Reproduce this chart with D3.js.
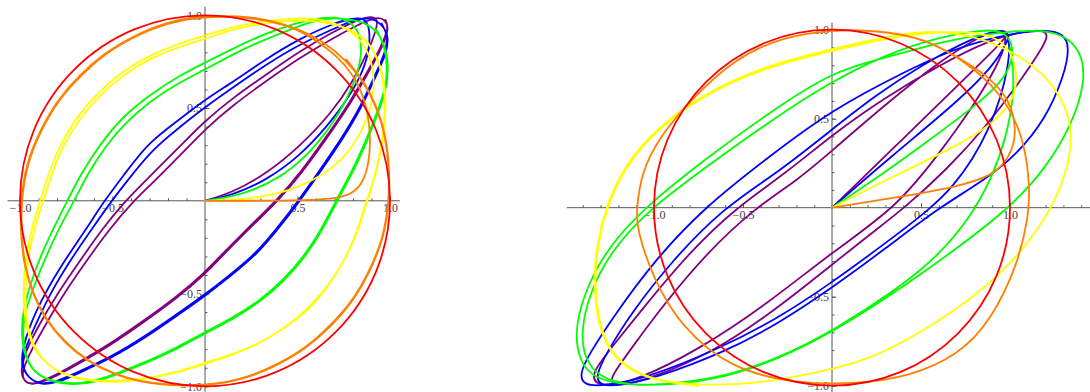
<!DOCTYPE html>
<html><head><meta charset="utf-8">
<script src="https://cdn.jsdelivr.net/npm/d3@7"></script>
<style>html,body{margin:0;padding:0;background:#fff}svg{display:block}</style>
</head><body><svg id="chart" width="1090" height="392"></svg>
<script>
// ---- tick values ----
const majorTicks = [-1, -0.5, 0.5, 1];
const leftMinor = [-1,-0.9,-0.8,-0.7,-0.6,-0.5,-0.4,-0.3,-0.2,-0.1,0.1,0.2,0.3,0.4,0.5,0.6,0.7,0.8,0.9,1];
const rightMinorX = [-1.4,-1.3,-1.2,-1.1,-1,-0.9,-0.8,-0.7,-0.6,-0.5,-0.4,-0.3,-0.2,-0.1,0.1,0.2,0.3,0.4,0.5,0.6,0.7,0.8,0.9,1,1.1,1.2,1.3,1.4];

// ---- left panel trajectories ----
const leftRed = [[1,0],[0.924,0.383],[0.707,0.707],[0.383,0.924],[0,1],[-0.383,0.924],[-0.707,0.707],[-0.924,0.383],[-1,0],[-0.924,-0.383],[-0.707,-0.707],[-0.383,-0.924],[0,-1],[0.383,-0.924],[0.707,-0.707],[0.924,-0.383]];

const leftOrange = [[0,0],[0.35,0],[0.6,0.004],[0.72,0.014],[0.8,0.04],[0.855,0.1],[0.885,0.2],[0.895,0.32],[0.885,0.45],[0.855,0.57],[0.8,0.68],[0.72,0.775],[0.6,0.865],[0.5,0.925],
 [0.35,0.972],[0.18,0.993],[0,0.993],[-0.2,0.963],[-0.4,0.878],[-0.55,0.787],[-0.673,0.673],[-0.787,0.55],[-0.878,0.4],[-0.963,0.2],[-0.993,0],[-0.993,-0.18],[-0.975,-0.35],[-0.93,-0.5],[-0.86,-0.64],[-0.76,-0.76],[-0.64,-0.86],[-0.5,-0.93],[-0.35,-0.975],[-0.18,-0.995],[0,-0.995],[0.2,-0.965],[0.4,-0.88],[0.55,-0.79],[0.675,-0.675],[0.79,-0.55],[0.88,-0.4],[0.965,-0.2],[0.995,0],[0.995,0.18],[0.975,0.35],[0.93,0.5],[0.86,0.64],[0.76,0.76],[0.64,0.86],[0.5,0.93],
 [0.35,0.976],[0.18,0.997],[0,0.997],[-0.2,0.968],[-0.4,0.883],[-0.55,0.792],[-0.678,0.678],[-0.792,0.55],[-0.883,0.4],[-0.968,0.2],[-0.997,0],[-0.997,-0.18],[-0.978,-0.35],[-0.933,-0.5],[-0.863,-0.64],[-0.763,-0.763],[-0.64,-0.863],[-0.5,-0.933],[-0.35,-0.978],[-0.18,-0.997],[0,-0.997],[0.2,-0.968],[0.4,-0.884],[0.55,-0.794],[0.68,-0.68],[0.794,-0.55],[0.884,-0.4],[0.968,-0.2],[0.997,0],[0.997,0.18],[0.978,0.35],[0.933,0.5],[0.863,0.64],[0.763,0.763]];

const leftYellow = [[0,0],[0.2,0.006],[0.36,0.03],[0.5,0.07],[0.64,0.14],[0.75,0.23],[0.83,0.34],[0.89,0.47],[0.915,0.6],[0.91,0.72],[0.87,0.83],[0.8,0.91],[0.7,0.96],[0.6,0.982],
 [0.5,0.985],[0.33,0.972],[0.15,0.938],[0,0.891],[-0.15,0.845],[-0.3,0.785],[-0.45,0.695],[-0.582,0.582],[-0.695,0.45],[-0.785,0.3],[-0.845,0.15],[-0.891,0],[-0.938,-0.15],[-0.972,-0.33],[-0.985,-0.5],[-0.974,-0.65],[-0.936,-0.78],[-0.87,-0.87],
 [-0.775,-0.935],[-0.645,-0.97],[-0.495,-0.98],[-0.325,-0.963],[-0.145,-0.925],[0.005,-0.878],[0.155,-0.83],[0.305,-0.765],[0.455,-0.67],[0.575,-0.575],[0.67,-0.455],[0.765,-0.305],[0.83,-0.155],[0.878,0.005],[0.925,0.145],[0.963,0.325],[0.98,0.495],[0.97,0.645],[0.935,0.775],[0.87,0.87],
 [0.78,0.93],[0.65,0.965],[0.5,0.975],[0.33,0.96],[0.15,0.925],[0,0.873],[-0.15,0.827],[-0.3,0.767],[-0.44,0.68],[-0.57,0.57],[-0.68,0.44],[-0.767,0.3],[-0.827,0.15],[-0.873,0],[-0.925,-0.15],[-0.96,-0.33],[-0.975,-0.5],[-0.965,-0.65],[-0.93,-0.78],[-0.87,-0.87],
 [-0.78,-0.93],[-0.65,-0.965],[-0.5,-0.975],[-0.33,-0.96],[-0.15,-0.925],[0,-0.873],[0.15,-0.827],[0.3,-0.767],[0.44,-0.68],[0.57,-0.57],[0.68,-0.44],[0.767,-0.3],[0.827,-0.15],[0.873,0],[0.925,0.15],[0.96,0.33],[0.975,0.5],[0.965,0.65],[0.93,0.78],[0.87,0.87]];

const leftGreen = [[0,0],[0.2,0.03],[0.4,0.12],[0.55,0.24],[0.68,0.4],[0.77,0.55],[0.83,0.7],[0.85,0.82],[0.83,0.92],[0.77,0.975],[0.7,0.99],
 [0.6,0.985],[0.45,0.945],[0.3,0.89],[0.15,0.82],[0,0.745],[-0.15,0.668],[-0.3,0.57],[-0.45,0.45],[-0.57,0.3],[-0.668,0.15],[-0.745,0],[-0.82,-0.15],[-0.89,-0.3],[-0.945,-0.45],[-0.985,-0.6],[-0.993,-0.72],[-0.975,-0.84],[-0.925,-0.925],
 [-0.835,-0.975],[-0.715,-0.993],[-0.595,-0.98],[-0.445,-0.925],[-0.295,-0.865],[-0.145,-0.795],[0.005,-0.712],[0.155,-0.637],[0.305,-0.54],[0.43,-0.43],[0.54,-0.305],[0.637,-0.155],[0.712,-0.005],[0.795,0.145],[0.865,0.295],[0.925,0.445],[0.98,0.595],[0.993,0.715],[0.975,0.835],[0.925,0.925],
 [0.84,0.97],[0.72,0.988],[0.6,0.975],[0.45,0.92],[0.3,0.86],[0.15,0.79],[0,0.707],[-0.15,0.632],[-0.3,0.535],[-0.425,0.425],[-0.535,0.3],[-0.632,0.15],[-0.707,0],[-0.79,-0.15],[-0.86,-0.3],[-0.92,-0.45],[-0.975,-0.6],[-0.988,-0.72],[-0.97,-0.84],[-0.925,-0.925],
 [-0.84,-0.97],[-0.72,-0.988],[-0.6,-0.975],[-0.45,-0.92],[-0.3,-0.86],[-0.15,-0.79],[0,-0.707],[0.15,-0.632],[0.3,-0.535],[0.425,-0.425],[0.535,-0.3],[0.632,-0.15],[0.707,0],[0.79,0.15],[0.86,0.3],[0.92,0.45],[0.975,0.6],[0.988,0.72],[0.97,0.84],[0.925,0.925]];

const leftBlue = [[0,0],[0.15,0.03],[0.33,0.11],[0.51,0.24],[0.66,0.4],[0.78,0.56],[0.855,0.7],[0.89,0.82],[0.89,0.93],[0.865,0.985],
 [0.8,0.985],[0.69,0.955],[0.51,0.873],[0.33,0.765],[0.15,0.64],[0,0.545],[-0.15,0.43],[-0.31,0.31],[-0.43,0.15],[-0.545,0],[-0.64,-0.15],[-0.765,-0.33],[-0.873,-0.51],[-0.955,-0.69],[-0.985,-0.8],[-0.995,-0.885],[-0.955,-0.955],
 [-0.885,-0.995],[-0.795,-0.98],[-0.685,-0.93],[-0.505,-0.848],[-0.325,-0.74],[-0.145,-0.615],[0.005,-0.51],[0.145,-0.4],[0.285,-0.285],[0.4,-0.145],[0.51,-0.005],[0.615,0.145],[0.74,0.325],[0.848,0.505],[0.93,0.685],[0.98,0.795],[0.995,0.885],[0.955,0.955],
 [0.89,0.99],[0.8,0.975],[0.69,0.925],[0.51,0.843],[0.33,0.735],[0.15,0.61],[0,0.505],[-0.14,0.395],[-0.28,0.28],[-0.395,0.14],[-0.505,0],[-0.61,-0.15],[-0.735,-0.33],[-0.843,-0.51],[-0.925,-0.69],[-0.975,-0.8],[-0.99,-0.89],[-0.955,-0.955],
 [-0.89,-0.99],[-0.8,-0.975],[-0.69,-0.925],[-0.51,-0.843],[-0.33,-0.735],[-0.15,-0.61],[0,-0.505],[0.14,-0.395],[0.28,-0.28],[0.395,-0.14],[0.505,0],[0.61,0.15],[0.735,0.33],[0.843,0.51],[0.925,0.69],[0.975,0.8],[0.99,0.89],[0.955,0.955]];

const leftPurple = [[0,0],[0.15,0.045],[0.33,0.145],[0.51,0.29],[0.69,0.48],[0.8,0.645],[0.88,0.8],[0.925,0.92],[0.935,0.975],[0.905,0.997],
 [0.835,0.98],[0.69,0.91],[0.51,0.805],[0.33,0.68],[0.15,0.555],[0,0.43],[-0.1,0.33],[-0.215,0.215],[-0.33,0.1],[-0.43,0],[-0.555,-0.15],[-0.68,-0.33],[-0.805,-0.51],[-0.91,-0.69],[-0.98,-0.835],[-0.997,-0.93],[-0.975,-0.975],
 [-0.935,-0.995],[-0.83,-0.96],[-0.685,-0.88],[-0.505,-0.775],[-0.325,-0.65],[-0.145,-0.52],[0.005,-0.39],[0.095,-0.295],[0.195,-0.195],[0.295,-0.095],[0.39,-0.005],[0.52,0.145],[0.65,0.325],[0.775,0.505],[0.88,0.685],[0.96,0.83],[0.995,0.93],[0.975,0.975],
 [0.935,0.993],[0.835,0.955],[0.69,0.875],[0.51,0.77],[0.33,0.645],[0.15,0.515],[0,0.385],[-0.09,0.29],[-0.19,0.19],[-0.29,0.09],[-0.385,0],[-0.515,-0.15],[-0.645,-0.33],[-0.77,-0.51],[-0.875,-0.69],[-0.955,-0.835],[-0.993,-0.935],[-0.975,-0.975],
 [-0.935,-0.993],[-0.835,-0.955],[-0.69,-0.875],[-0.51,-0.77],[-0.33,-0.645],[-0.15,-0.515],[0,-0.385],[0.09,-0.29],[0.19,-0.19],[0.29,-0.09],[0.385,0],[0.515,0.15],[0.645,0.33],[0.77,0.51],[0.875,0.69],[0.955,0.835],[0.993,0.935],[0.975,0.975]];

// ---- right panel trajectories ----
const rightRed = [[1,0],[0.924,0.383],[0.707,0.707],[0.383,0.924],[0,1],[-0.383,0.924],[-0.707,0.707],[-0.924,0.383],[-1,0],[-0.924,-0.383],[-0.707,-0.707],[-0.383,-0.924],[0,-1],[0.383,-0.924],[0.707,-0.707],[0.924,-0.383]];

const rightOrange = [[0,0],[0.335,0.053],[0.71,0.118],[0.897,0.18],[0.98,0.26],[1.025,0.36],[1.03,0.46],[1.01,0.56],[0.96,0.65],[0.88,0.73],
 [0.8,0.79],[0.522,0.955],[0.25,0.995],[0,1],[-0.28,0.96],[-0.55,0.835],[-0.79,0.61],[-0.975,0.39],[-1.07,0.2],[-1.1,-0.02],[-1.095,-0.12],[-1.01,-0.387],[-0.85,-0.67],[-0.563,-0.91],[-0.187,-0.99],[0.148,-0.99],[0.43,-0.95],[0.71,-0.83],[0.897,-0.63],[1.047,-0.31],[1.103,-0.05],[1.113,0.1],[1.084,0.362],[0.99,0.59],[0.8,0.79],[0.522,0.957],[0.25,0.997],[0,1]];

const rightYellow = [[0,0],[0.35,0.18],[0.71,0.35],[0.9,0.47],[1,0.58],[1.04,0.68],[1.03,0.82],[0.97,0.93],[0.85,0.98],[0.7,0.99],
 [0.5,0.98],[0.25,0.94],[0,0.88],[-0.375,0.79],[-0.75,0.62],[-1.03,0.4],[-1.2,0.17],[-1.3,-0.1],[-1.34,-0.39],[-1.31,-0.67],[-1.22,-0.855],[-1.03,-0.967],[-0.75,-1],
 [-0.4,-0.99],[0,-0.91],[0.24,-0.84],[0.52,-0.69],[0.8,-0.5],[1.01,-0.31],[1.16,-0.12],[1.27,0.07],[1.34,0.28],[1.35,0.467],[1.27,0.67],[1.08,0.85],[0.8,0.97],[0.52,1],[0.25,0.95],
 [0,0.89],[-0.375,0.8],[-0.75,0.628],[-1.035,0.405],[-1.205,0.175],[-1.305,-0.1],[-1.345,-0.39],[-1.315,-0.67],[-1.225,-0.858],[-1.035,-0.97],[-0.75,-1]];

const rightGreen = [[0,0],[0.3,0.2],[0.522,0.362],[0.8,0.567],[0.95,0.7],[1.02,0.83],[1.01,0.94],[0.95,0.995],[0.85,1],
 [0.6,0.96],[0.3,0.86],[0,0.71],[-0.3,0.52],[-0.65,0.27],[-1.02,0],[-1.25,-0.25],[-1.37,-0.5],[-1.41,-0.7],[-1.39,-0.85],[-1.31,-0.95],[-1.15,-1],
 [-0.9,-0.995],[-0.6,-0.955],[-0.3,-0.85],[0,-0.7],[0.35,-0.48],[0.7,-0.23],[1,0],[1.2,0.22],[1.35,0.47],[1.42,0.7],[1.41,0.85],[1.33,0.96],[1.18,1],[1,0.99],
 [0.75,0.96],[0.5,0.9],[0.25,0.83],[0,0.76],[-0.3,0.57],[-0.65,0.32],[-1.06,0],[-1.28,-0.25],[-1.4,-0.5],[-1.445,-0.7],[-1.42,-0.86],[-1.34,-0.96],[-1.15,-1],
 [-0.9,-0.99],[-0.6,-0.95],[-0.3,-0.845],[0,-0.695],[0.35,-0.47],[0.6,-0.27],[0.78,-0.05],[0.9,0.17],[0.98,0.4],[1.02,0.62],[1.02,0.78],[1,0.9]];

const rightBlue = [[0,0],[0.335,0.29],[0.71,0.6],[0.9,0.79],[0.98,0.92],[1,0.98],[0.95,1],
 [0.8,0.96],[0.5,0.8],[0.25,0.635],[0,0.44],[-0.3,0.2],[-0.61,0],[-0.9,-0.3],[-1.12,-0.58],[-1.27,-0.82],[-1.33,-0.95],[-1.3,-1],[-1.2,-1],
 [-1,-0.96],[-0.6,-0.81],[-0.3,-0.65],[0,-0.45],[0.3,-0.23],[0.6,0],[0.85,0.15],[1.04,0.3],[1.2,0.5],[1.3,0.73],[1.337,0.9],[1.3,0.98],[1.2,1],
 [1,0.98],[0.7,0.9],[0.4,0.76],[0,0.55],[-0.35,0.29],[-0.72,0],[-1,-0.3],[-1.22,-0.6],[-1.37,-0.83],[-1.42,-0.94],[-1.39,-1],[-1.28,-1],
 [-1.05,-0.96],[-0.65,-0.8],[-0.3,-0.62],[0,-0.42],[0.3,-0.2],[0.56,0],[0.68,0.12],[0.79,0.27],[0.88,0.44],[0.95,0.62],[0.99,0.8],[1,0.92],[0.98,0.98]];

const rightPurple = [[0,0],[0.335,0.325],[0.71,0.69],[0.9,0.875],[0.97,0.95],[0.99,0.985],[0.95,1],
 [0.85,0.975],[0.6,0.82],[0.3,0.58],[0,0.32],[-0.2,0.15],[-0.43,0],[-0.7,-0.25],[-0.95,-0.55],[-1.12,-0.78],[-1.22,-0.92],[-1.25,-0.98],[-1.2,-1],
 [-1.05,-0.97],[-0.7,-0.83],[-0.35,-0.6],[0,-0.32],[0.2,-0.16],[0.41,0],[0.65,0.22],[0.86,0.45],[1.05,0.7],[1.17,0.88],[1.22,0.97],[1.18,1],[1.08,0.99],
 [0.9,0.95],[0.6,0.8],[0.3,0.62],[0,0.41],[-0.25,0.2],[-0.54,0],[-0.8,-0.25],[-1.05,-0.55],[-1.25,-0.8],[-1.35,-0.93],[-1.33,-0.99],[-1.25,-1],
 [-1.1,-0.97],[-0.75,-0.8],[-0.35,-0.53],[0,-0.25],[0.36,0],[0.6,0.3],[0.8,0.58],[0.93,0.8],[0.98,0.93],[0.97,0.99]];

const seriesColors = ["#800080", "#0000ff", "#00ff00", "#ffff00", "#ff8000", "#ff0000"];
const leftSeries  = [leftPurple, leftBlue, leftGreen, leftYellow, leftOrange, leftRed];
const rightSeries = [rightPurple, rightBlue, rightGreen, rightYellow, rightOrange, rightRed];

const svg = d3.select("#chart");
svg.append("rect").attr("width", 1090).attr("height", 392).attr("fill", "#fff");

function drawPanel(cfg) {
  const x = d3.scaleLinear().domain([-1, 1]).range(cfg.xRange);
  const y = d3.scaleLinear().domain([-1, 1]).range(cfg.yRange);
  const g = svg.append("g");

  // axes
  const ax = g.append("g").attr("class", "axes");
  ax.append("line").attr("x1", x(cfg.xExtent[0])).attr("x2", x(cfg.xExtent[1]))
    .attr("y1", y(0)).attr("y2", y(0)).attr("stroke", "#555").attr("stroke-width", 1);
  ax.append("line").attr("y1", y(cfg.yExtent[0])).attr("y2", y(cfg.yExtent[1]))
    .attr("x1", x(0)).attr("x2", x(0)).attr("stroke", "#555").attr("stroke-width", 1);

  const tickStyle = s => s.call(a => a.select(".domain").remove())
    .call(a => a.selectAll("line").attr("stroke", "#555"));
  ax.append("g").attr("transform", `translate(0,${y(0)})`)
    .call(d3.axisBottom(x).tickValues(cfg.xMinor).tickSizeInner(-2.5).tickSizeOuter(0).tickFormat(""))
    .call(tickStyle);
  ax.append("g").attr("transform", `translate(${x(0)},0)`)
    .call(d3.axisLeft(y).tickValues(leftMinor).tickSizeInner(-2.5).tickSizeOuter(0).tickFormat(""))
    .call(tickStyle);
  const fmt = d => (d < 0 ? "\u2212" : "") + Math.abs(d).toFixed(1);
  const xa = ax.append("g").attr("transform", `translate(0,${y(0)})`)
    .call(d3.axisBottom(x).tickValues(majorTicks).tickSizeInner(-4.5).tickSizeOuter(0).tickPadding(3).tickFormat(fmt))
    .call(tickStyle);
  const ya = ax.append("g").attr("transform", `translate(${x(0)},0)`)
    .call(d3.axisLeft(y).tickValues(majorTicks).tickSizeInner(-4.5).tickSizeOuter(0).tickPadding(3).tickFormat(fmt))
    .call(tickStyle);
  [xa, ya].forEach(a => a.selectAll("text")
    .attr("font-family", "'Liberation Serif', 'DejaVu Serif', serif")
    .attr("font-size", 12).attr("fill", "#444"));

  // trajectories
  const line = d3.line().x(d => x(d[0])).y(d => y(d[1])).curve(d3.curveBasis);
  const closed = d3.line().x(d => x(d[0])).y(d => y(d[1])).curve(d3.curveCatmullRomClosed.alpha(0.5));
  cfg.series.forEach((s, i) => {
    g.append("path")
      .attr("d", (i === cfg.series.length - 1 ? closed : line)(s))
      .attr("fill", "none").attr("stroke", seriesColors[i])
      .attr("stroke-width", 1.8).attr("stroke-linejoin", "round").attr("stroke-linecap", "round");
  });
}

drawPanel({
  xRange: [20, 390], yRange: [386.3, 15.3],
  xExtent: [-1.067, 1.053], yExtent: [-1.03, 1.046],
  xMinor: leftMinor, series: leftSeries
});
drawPanel({
  xRange: [654, 1010], yRange: [385.7, 29.7],
  xExtent: [-1.49, 1.46], yExtent: [-1.04, 1.04],
  xMinor: rightMinorX, series: rightSeries
});
</script>
</body></html>
